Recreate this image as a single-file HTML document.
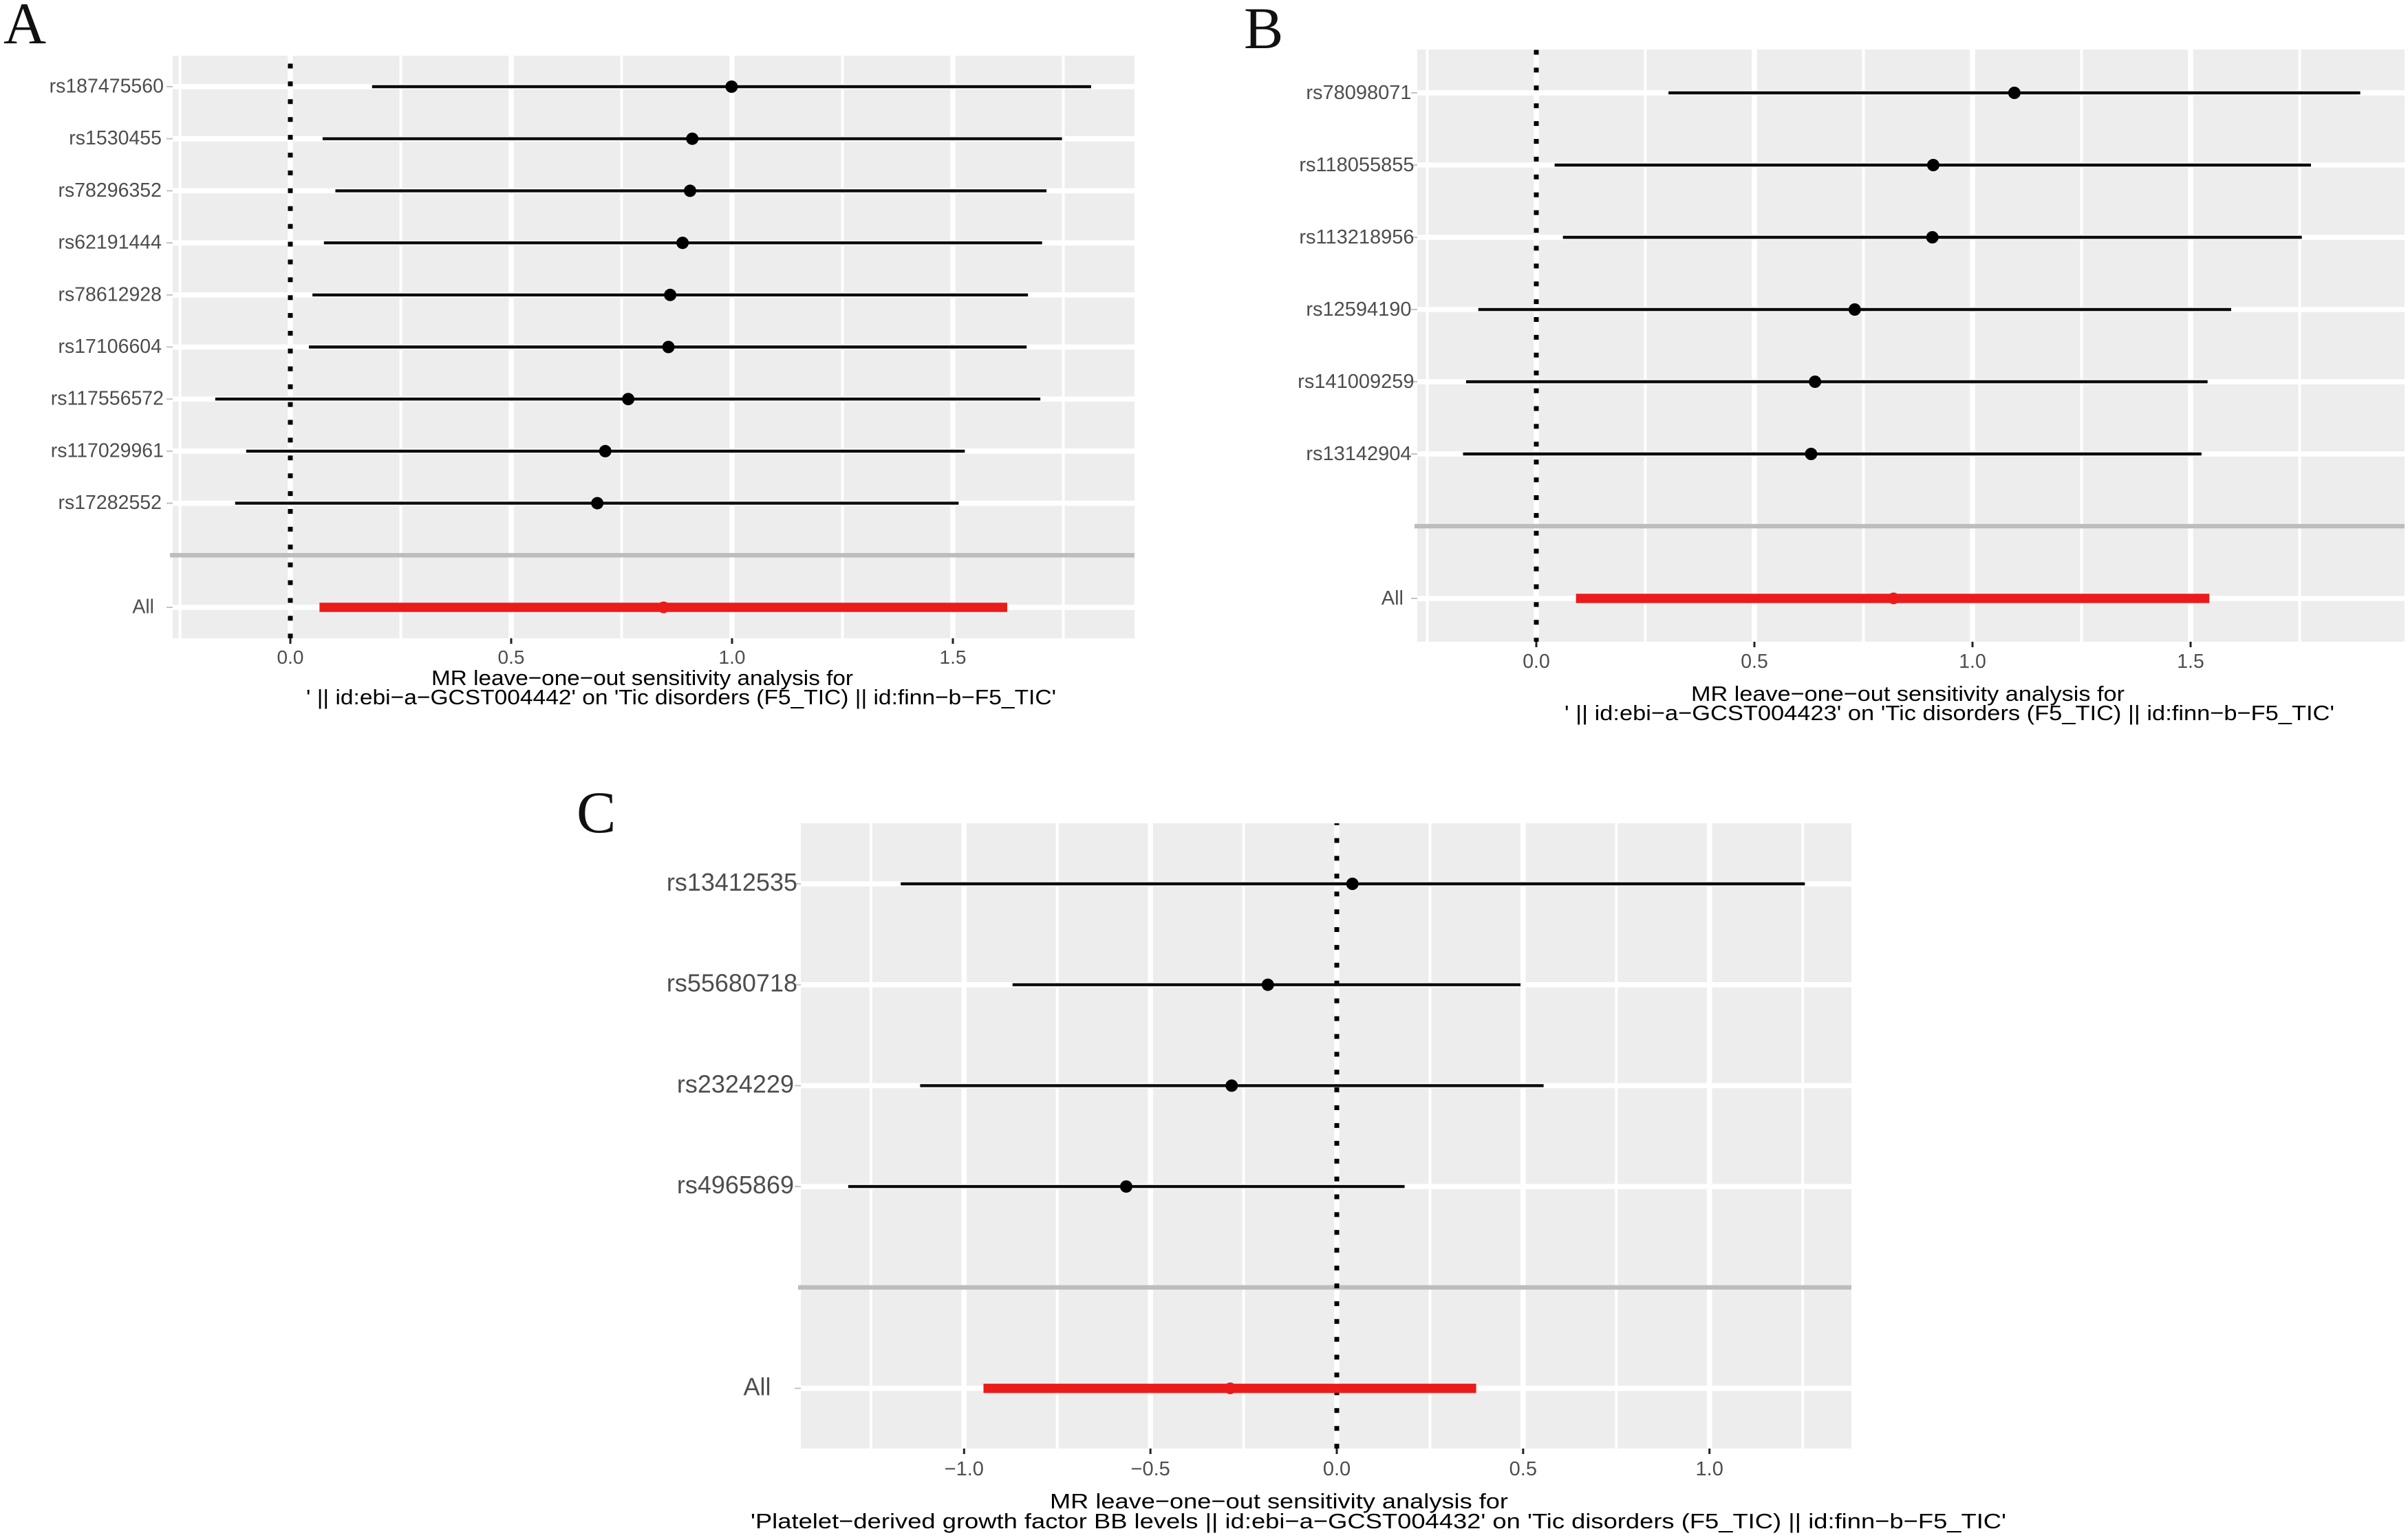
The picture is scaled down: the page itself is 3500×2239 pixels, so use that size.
<!DOCTYPE html>
<html lang="en">
<head>
<meta charset="utf-8">
<title>MR leave-one-out sensitivity analysis</title>
<style>
html,body{margin:0;padding:0;background:#fff;}
svg{display:block;font-family:"Liberation Sans",Arial,sans-serif;}
.letter{font-family:"Liberation Serif",serif;font-size:86px;fill:#111;}
.title{font-size:31px;fill:#000;}
</style>
</head>
<body>
<svg id="figure" width="3500" height="2239" viewBox="0 0 3500 2239" xmlns="http://www.w3.org/2000/svg">
  <rect x="0" y="0" width="3500" height="2239" fill="#ffffff"/>

  <g id="panel-a"></g>
  <g id="panel-b"></g>
  <g id="panel-c"></g>

  <text class="letter" x="5" y="63">A</text>
  <text class="letter" x="1808" y="70">B</text>
  <text class="letter" x="838" y="1210">C</text>

  <text class="title" x="627" y="996" textLength="613" lengthAdjust="spacingAndGlyphs">MR leave−one−out sensitivity analysis for</text>
  <text class="title" x="445" y="1024" textLength="1090" lengthAdjust="spacingAndGlyphs">' || id:ebi−a−GCST004442' on 'Tic disorders (F5_TIC) || id:finn−b−F5_TIC'</text>

  <text class="title" x="2458" y="1019" textLength="630" lengthAdjust="spacingAndGlyphs">MR leave−one−out sensitivity analysis for</text>
  <text class="title" x="2274" y="1047" textLength="1119" lengthAdjust="spacingAndGlyphs">' || id:ebi−a−GCST004423' on 'Tic disorders (F5_TIC) || id:finn−b−F5_TIC'</text>

  <text class="title" x="1526" y="2193" textLength="666" lengthAdjust="spacingAndGlyphs">MR leave−one−out sensitivity analysis for</text>
  <text class="title" x="1091" y="2222" textLength="1825" lengthAdjust="spacingAndGlyphs">'Platelet−derived growth factor BB levels || id:ebi−a−GCST004432' on 'Tic disorders (F5_TIC) || id:finn−b−F5_TIC'</text>
</svg>

<script>
// Panel A data
const snpsA = ['rs187475560','rs1530455','rs78296352','rs62191444','rs78612928','rs17106604','rs117556572','rs117029961','rs17282552','','All'];
const betaA = [0.999,0.910,0.905,0.888,0.860,0.856,0.765,0.713,0.695,null,0.845];
const lowA  = [0.185,0.073,0.102,0.076,0.050,0.042,-0.170,-0.100,-0.125,null,0.066];
const highA = [1.813,1.747,1.712,1.702,1.670,1.667,1.698,1.527,1.513,null,1.623];
const ticksA = [0,0.5,1,1.5];
const tickLabelsA = ['0.0','0.5','1.0','1.5'];

// Panel B data
const snpsB = ['rs78098071','rs118055855','rs113218956','rs12594190','rs141009259','rs13142904','','All'];
const betaB = [1.096,0.910,0.908,0.730,0.639,0.630,null,0.819];
const lowB  = [0.303,0.042,0.061,-0.133,-0.161,-0.168,null,0.091];
const highB = [1.889,1.776,1.755,1.593,1.539,1.525,null,1.543];
const ticksB = [0,0.5,1,1.5];
const tickLabelsB = ['0.0','0.5','1.0','1.5'];

// Panel C data
const snpsC = ['rs13412535','rs55680718','rs2324229','rs4965869','','All'];
const betaC = [0.042,-0.185,-0.282,-0.565,null,-0.286];
const lowC  = [-1.170,-0.870,-1.118,-1.311,null,-0.948];
const highC = [1.256,0.493,0.555,0.182,null,0.374];
const ticksC = [-1,-0.5,0,0.5,1];
const tickLabelsC = ['−1.0','−0.5','0.0','0.5','1.0'];

const SVG_NS = 'http://www.w3.org/2000/svg';

function make(tag, parent, props) {
  const el = document.createElementNS(SVG_NS, tag);
  for (const k in props) el.setAttribute(k, props[k]);
  parent.appendChild(el);
  return el;
}

function drawPanel(id, snps, beta, low, high, ticks, tickLabels, g) {
  const root = document.getElementById(id);
  const xAxis = v => g.x0 + v * g.unit;
  const yAxis = i => g.firstRow + i * g.rowStep;

  const bg = make('rect', root, {x:g.left, y:g.top, width:g.right-g.left, height:g.bottom-g.top, fill:'#ededed'});
  
  

  // minor vertical gridlines (midpoints between major ticks plus one step either side)
  const step = ticks[1] - ticks[0];
  const minors = [ticks[0] - step / 2].concat(ticks.map(t => t + step / 2));
  minors.forEach(v => {
    const m = make('line', root, {x1:xAxis(v), x2:xAxis(v), y1:g.top, y2:g.bottom, stroke:'#ffffff', 'stroke-width':4});
    
    
  });

  // major vertical gridlines, x ticks and x labels
  ticks.forEach((v, i) => {
    const gl = make('line', root, {x1:xAxis(v), x2:xAxis(v), y1:g.top, y2:g.bottom, stroke:'#ffffff', 'stroke-width':7.5});
    
    

    const tk = make('line', root, {x1:xAxis(v), x2:xAxis(v), y1:g.bottom, y2:g.bottom+8, stroke:'#222222', 'stroke-width':3});
    
    

    const lb = make('text', root, {x:xAxis(v), y:g.tickBase, 'text-anchor':'middle', 'font-size':g.tickFont, fill:'#4d4d4d'});
    
    
    lb.textContent = tickLabels[i];
  });

  // horizontal gridlines and y labels
  snps.forEach((s, i) => {
    const y = yAxis(i);
    if (s === '') {
      const sep = make('line', root, {x1:g.left-4, x2:g.right, y1:y, y2:y, stroke:'#bdbdbd', 'stroke-width':6.5});
      
      
      return;
    }
    const hl = make('line', root, {x1:g.left, x2:g.right, y1:y, y2:y, stroke:'#ffffff', 'stroke-width':7.5});
    
    

    const tk = make('line', root, {x1:g.left-9, x2:g.left, y1:y, y2:y, stroke:'#c4c4c4', 'stroke-width':2});
    
    

    let right = g.labelMid;
    if (s.length >= 11) right = g.labelLong;
    if (s.length === 9) right = g.labelNine;
    if (s === 'All') right = g.labelAll;
    const lb = make('text', root, {x:right, y:y+g.labelDrop, 'text-anchor':'end', 'font-size':g.labelFont, fill:'#4d4d4d'});
    
    
    lb.textContent = s;
  });

  // dotted reference line at zero
  const zero = make('line', root, {x1:xAxis(0), x2:xAxis(0), y1:g.top, y2:g.bottom, stroke:'#000000', 'stroke-width':7,
    'stroke-dasharray':'7 18.9', 'stroke-dashoffset':g.top - g.dashStart});
  
  

  // confidence intervals and points
  snps.forEach((s, i) => {
    if (s === '') return;
    const isAll = s === 'All';
    const y = yAxis(i);
    const colour = isAll ? '#ec1b1b' : '#0c0c0c';
    const seg = make('line', root, {x1:xAxis(low[i]), x2:xAxis(high[i]), y1:y, y2:y, stroke:colour, 'stroke-width':isAll ? 13.5 : 4.4});
    
    

    const pt = make('circle', root, {cx:xAxis(beta[i]), cy:y, r:isAll ? 8.5 : 9, fill:isAll ? '#ec1b1b' : '#000000'});
    
    
  });
}

drawPanel('panel-a', snpsA, betaA, lowA, highA, ticksA, tickLabelsA, {
  left:251, right:1649, top:81, bottom:928, x0:422, unit:642,
  firstRow:126, rowStep:75.7, tickBase:965, tickFont:28,
  labelFont:28.5, labelDrop:8.5, labelLong:238, labelMid:235, labelNine:235, labelAll:224, dashStart:92.5
});
drawPanel('panel-b', snpsB, betaB, lowB, highB, ticksB, tickLabelsB, {
  left:2060, right:3495, top:72, bottom:933, x0:2233, unit:634,
  firstRow:135, rowStep:105, tickBase:971, tickFont:28.4,
  labelFont:29, labelDrop:9, labelLong:2055.5, labelMid:2051.5, labelNine:2051.5, labelAll:2040, dashStart:72.5
});
drawPanel('panel-c', snpsC, betaC, lowC, highC, ticksC, tickLabelsC, {
  left:1164, right:2691, top:1197, bottom:2106, x0:1943, unit:541.7,
  firstRow:1285, rowStep:146.7, tickBase:2145, tickFont:29,
  labelFont:36, labelDrop:10, labelLong:1159, labelMid:1159, labelNine:1154, labelAll:1120.5, dashStart:1192.6
});
</script>
</body>
</html>
